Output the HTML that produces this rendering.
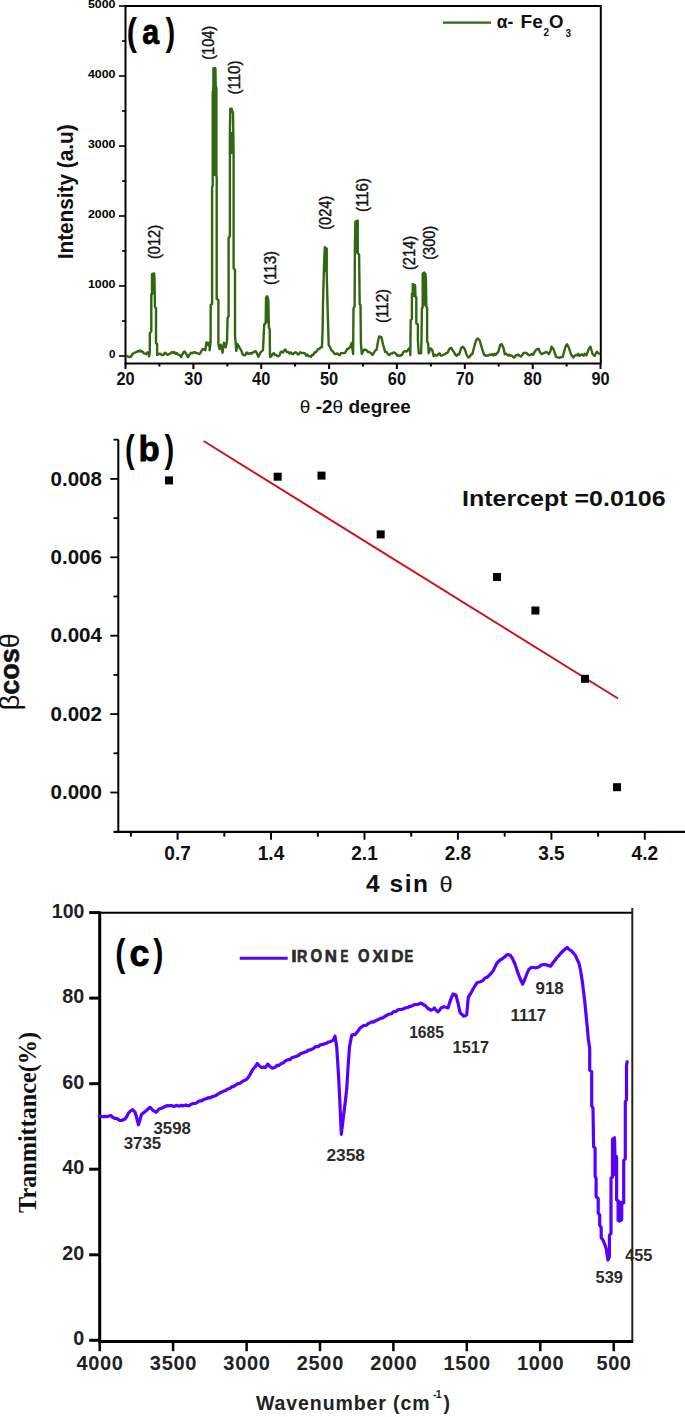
<!DOCTYPE html>
<html><head><meta charset="utf-8"><title>Figure</title>
<style>html,body{margin:0;padding:0;background:#fff;} svg{display:block;}</style>
</head><body>
<svg width="685" height="1417" viewBox="0 0 685 1417">
<rect width="685" height="1417" fill="#fff"/>
<g id="chartA">
<rect x="125.5" y="6" width="475.3" height="357.5" fill="none" stroke="#000" stroke-width="2"/>
<line x1="119" y1="356.0" x2="125.5" y2="356.0" stroke="#000" stroke-width="1.6"/>
<text x="115.5" y="358.3" text-anchor="end" font-family='"Liberation Sans", sans-serif' font-weight="bold" font-size="11.5" fill="#000">0</text>
<line x1="119" y1="286.0" x2="125.5" y2="286.0" stroke="#000" stroke-width="1.6"/>
<text x="115.5" y="288.3" text-anchor="end" font-family='"Liberation Sans", sans-serif' font-weight="bold" font-size="11.5" fill="#000" textLength="27.5" lengthAdjust="spacingAndGlyphs">1000</text>
<line x1="119" y1="216.0" x2="125.5" y2="216.0" stroke="#000" stroke-width="1.6"/>
<text x="115.5" y="218.3" text-anchor="end" font-family='"Liberation Sans", sans-serif' font-weight="bold" font-size="11.5" fill="#000" textLength="27.5" lengthAdjust="spacingAndGlyphs">2000</text>
<line x1="119" y1="146.0" x2="125.5" y2="146.0" stroke="#000" stroke-width="1.6"/>
<text x="115.5" y="148.3" text-anchor="end" font-family='"Liberation Sans", sans-serif' font-weight="bold" font-size="11.5" fill="#000" textLength="27.5" lengthAdjust="spacingAndGlyphs">3000</text>
<line x1="119" y1="76.0" x2="125.5" y2="76.0" stroke="#000" stroke-width="1.6"/>
<text x="115.5" y="78.3" text-anchor="end" font-family='"Liberation Sans", sans-serif' font-weight="bold" font-size="11.5" fill="#000" textLength="27.5" lengthAdjust="spacingAndGlyphs">4000</text>
<line x1="119" y1="6.0" x2="125.5" y2="6.0" stroke="#000" stroke-width="1.6"/>
<text x="115.5" y="8.3" text-anchor="end" font-family='"Liberation Sans", sans-serif' font-weight="bold" font-size="11.5" fill="#000" textLength="27.5" lengthAdjust="spacingAndGlyphs">5000</text>
<line x1="122" y1="321.0" x2="125.5" y2="321.0" stroke="#000" stroke-width="1.6"/>
<line x1="122" y1="251.0" x2="125.5" y2="251.0" stroke="#000" stroke-width="1.6"/>
<line x1="122" y1="181.0" x2="125.5" y2="181.0" stroke="#000" stroke-width="1.6"/>
<line x1="122" y1="111.0" x2="125.5" y2="111.0" stroke="#000" stroke-width="1.6"/>
<line x1="122" y1="41.0" x2="125.5" y2="41.0" stroke="#000" stroke-width="1.6"/>
<line x1="125.5" y1="363" x2="125.5" y2="369" stroke="#000" stroke-width="2"/>
<text x="125.5" y="384.8" text-anchor="middle" font-family='"Liberation Sans", sans-serif' font-weight="bold" font-size="18.2" fill="#111" textLength="18.2" lengthAdjust="spacingAndGlyphs">20</text>
<line x1="193.4" y1="363" x2="193.4" y2="369" stroke="#000" stroke-width="2"/>
<text x="193.4" y="384.8" text-anchor="middle" font-family='"Liberation Sans", sans-serif' font-weight="bold" font-size="18.2" fill="#111" textLength="18.2" lengthAdjust="spacingAndGlyphs">30</text>
<line x1="261.2" y1="363" x2="261.2" y2="369" stroke="#000" stroke-width="2"/>
<text x="261.2" y="384.8" text-anchor="middle" font-family='"Liberation Sans", sans-serif' font-weight="bold" font-size="18.2" fill="#111" textLength="18.2" lengthAdjust="spacingAndGlyphs">40</text>
<line x1="329.1" y1="363" x2="329.1" y2="369" stroke="#000" stroke-width="2"/>
<text x="329.1" y="384.8" text-anchor="middle" font-family='"Liberation Sans", sans-serif' font-weight="bold" font-size="18.2" fill="#111" textLength="18.2" lengthAdjust="spacingAndGlyphs">50</text>
<line x1="396.9" y1="363" x2="396.9" y2="369" stroke="#000" stroke-width="2"/>
<text x="396.9" y="384.8" text-anchor="middle" font-family='"Liberation Sans", sans-serif' font-weight="bold" font-size="18.2" fill="#111" textLength="18.2" lengthAdjust="spacingAndGlyphs">60</text>
<line x1="464.8" y1="363" x2="464.8" y2="369" stroke="#000" stroke-width="2"/>
<text x="464.8" y="384.8" text-anchor="middle" font-family='"Liberation Sans", sans-serif' font-weight="bold" font-size="18.2" fill="#111" textLength="18.2" lengthAdjust="spacingAndGlyphs">70</text>
<line x1="532.7" y1="363" x2="532.7" y2="369" stroke="#000" stroke-width="2"/>
<text x="532.7" y="384.8" text-anchor="middle" font-family='"Liberation Sans", sans-serif' font-weight="bold" font-size="18.2" fill="#111" textLength="18.2" lengthAdjust="spacingAndGlyphs">80</text>
<line x1="600.5" y1="363" x2="600.5" y2="369" stroke="#000" stroke-width="2"/>
<text x="600.5" y="384.8" text-anchor="middle" font-family='"Liberation Sans", sans-serif' font-weight="bold" font-size="18.2" fill="#111" textLength="18.2" lengthAdjust="spacingAndGlyphs">90</text>
<line x1="159.4" y1="363" x2="159.4" y2="366.5" stroke="#000" stroke-width="2"/>
<line x1="227.3" y1="363" x2="227.3" y2="366.5" stroke="#000" stroke-width="2"/>
<line x1="295.1" y1="363" x2="295.1" y2="366.5" stroke="#000" stroke-width="2"/>
<line x1="363.0" y1="363" x2="363.0" y2="366.5" stroke="#000" stroke-width="2"/>
<line x1="430.9" y1="363" x2="430.9" y2="366.5" stroke="#000" stroke-width="2"/>
<line x1="498.7" y1="363" x2="498.7" y2="366.5" stroke="#000" stroke-width="2"/>
<line x1="566.6" y1="363" x2="566.6" y2="366.5" stroke="#000" stroke-width="2"/>
<polyline fill="none" stroke="#336611" stroke-width="2.4" stroke-linejoin="round" points="125.5,355.6 126.8,355.9 128.1,356.7 129.4,357.0 130.9,356.7 132.3,354.2 133.7,353.3 135.0,352.5 136.6,351.9 138.1,351.2 139.2,351.5 140.3,350.5 141.4,351.5 142.5,351.5 144.0,353.4 145.2,353.7 146.3,354.2 147.5,352.3 148.7,353.4 149.1,356.4 149.8,352.0 149.8,333.0 151.3,331.5 151.3,294.3 152.0,294.3 152.0,274.2 154.2,273.5 154.6,284.0 154.9,306.7 156.0,308.2 156.0,343.2 157.1,344.0 157.1,354.9 158.5,354.3 159.8,353.6 161.2,354.6 162.4,355.2 163.7,354.6 164.9,352.7 166.2,353.6 167.3,354.7 168.5,354.5 169.6,353.6 170.7,353.3 171.9,352.0 173.0,352.7 174.2,351.9 175.5,353.7 176.8,353.0 178.0,354.6 179.6,355.0 181.1,357.1 182.3,354.6 183.6,352.1 184.8,351.5 186.4,354.2 187.9,357.1 189.4,354.7 191.0,352.7 192.2,353.4 193.5,352.3 194.7,352.1 195.9,352.9 197.2,353.0 198.4,353.9 199.7,354.0 201.2,351.4 202.8,349.0 205.3,350.3 206.5,342.2 208.0,345.0 209.6,342.2 209.6,350.3 210.6,342.2 210.7,305.0 212.1,304.0 212.1,187.0 212.7,186.0 212.7,92.0 213.4,90.0 213.4,68.3 215.4,68.3 215.7,86.0 216.4,88.0 216.4,176.0 216.7,178.0 216.7,299.0 218.4,300.0 218.4,344.0 219.5,349.0 220.8,344.7 222.6,352.7 223.9,342.8 225.7,347.2 227.0,341.0 227.6,318.0 228.6,316.0 228.6,238.0 229.9,236.0 229.9,132.0 230.3,108.6 231.5,108.6 233.0,113.0 233.6,157.0 233.6,268.0 235.0,270.0 235.0,336.0 236.3,350.9 237.5,344.0 239.4,347.2 240.1,348.8 241.3,350.4 242.6,354.4 243.8,355.3 245.2,355.1 246.7,352.4 247.8,353.7 248.9,353.7 250.0,353.0 251.1,353.9 252.4,352.6 253.6,352.3 254.9,351.1 256.2,351.7 258.4,356.8 260.5,352.4 263.0,350.2 264.2,324.7 265.7,323.2 266.0,297.7 267.1,296.2 268.3,299.9 268.9,327.6 269.7,329.0 270.0,356.8 271.2,356.3 272.5,354.1 273.7,353.1 274.9,355.0 276.1,354.8 277.3,356.1 278.5,356.3 279.6,355.1 280.8,352.0 281.9,351.6 283.1,352.5 284.2,350.4 285.4,349.5 286.8,352.1 288.3,352.0 289.7,353.6 290.9,352.4 292.0,353.8 293.2,354.2 294.4,352.8 295.5,352.3 296.7,352.9 297.9,354.5 299.1,353.9 300.2,352.2 301.4,353.1 302.6,352.9 303.8,353.0 305.0,353.3 306.1,355.7 307.3,354.6 308.5,356.0 309.7,356.2 310.9,356.8 312.1,354.8 313.3,355.1 314.4,352.4 315.6,352.5 316.8,351.0 318.1,349.1 319.4,348.9 320.6,347.5 321.9,347.3 322.6,330.5 323.0,302.8 324.0,266.3 324.8,247.3 326.7,248.8 326.7,272.1 327.7,311.5 328.7,345.1 330.0,347.1 331.4,350.2 333.2,351.9 334.5,353.8 335.9,354.0 337.2,353.4 338.5,354.6 339.8,355.2 341.1,353.0 342.5,353.1 343.8,353.0 345.0,352.8 346.1,351.2 347.3,348.7 348.5,348.7 350.1,347.1 351.7,342.9 353.1,354.0 353.5,308.5 354.6,306.4 354.9,246.0 355.4,221.6 357.7,220.6 357.7,253.4 359.1,254.5 359.7,304.2 360.5,305.3 360.9,343.4 361.8,354.0 363.9,349.8 365.2,349.6 366.5,350.2 367.9,352.1 369.2,351.9 370.8,353.1 372.4,355.1 373.8,352.8 375.2,350.5 376.6,349.8 378.2,340.3 379.2,336.5 381.4,337.1 383.0,344.5 385.1,351.9 386.5,351.9 387.9,354.2 389.3,355.1 390.7,353.5 392.1,353.6 393.5,352.4 394.8,352.8 396.0,353.7 397.3,355.8 398.5,355.2 399.8,356.0 400.9,355.2 402.0,355.0 403.2,352.3 404.3,351.3 405.4,351.2 406.5,351.6 407.6,350.6 408.8,348.4 409.9,348.4 410.3,355.2 410.7,320.2 411.9,319.0 411.9,293.7 412.7,292.9 412.8,284.1 415.1,285.3 415.5,297.0 416.3,297.3 416.3,323.5 417.9,324.3 417.9,340.3 418.7,353.2 421.1,353.2 421.5,338.7 421.9,308.2 422.7,307.4 422.7,273.7 424.3,272.4 425.9,278.1 426.3,306.6 427.1,307.4 427.1,341.9 428.1,342.7 428.7,353.2 430.3,348.4 432.3,350.0 433.6,356.0 434.8,354.7 436.0,355.6 437.2,355.6 438.4,354.0 439.6,353.4 440.8,355.6 441.9,355.6 443.1,354.8 444.5,354.4 446.0,353.3 447.4,352.9 448.7,350.2 449.9,348.4 451.2,348.0 453.6,351.7 455.5,354.8 456.7,355.9 458.0,353.9 459.2,354.5 461.1,348.0 463.0,346.7 464.8,349.2 466.7,354.8 468.3,357.5 469.6,356.9 471.0,354.7 472.3,354.2 474.1,347.3 476.0,340.5 477.8,338.4 479.7,340.5 482.2,349.2 484.0,354.5 485.6,355.8 487.2,355.4 488.4,355.5 489.7,354.6 490.9,355.0 492.1,354.1 493.4,355.5 494.6,353.7 495.8,354.8 498.3,351.7 500.2,344.9 501.8,344.2 503.5,348.0 504.8,354.2 506.0,353.6 507.1,354.7 508.3,355.6 509.5,354.8 510.7,355.8 512.0,355.7 513.2,357.0 514.4,357.6 515.7,355.2 516.9,355.4 518.2,354.5 519.4,355.6 520.7,356.6 522.1,355.2 523.6,353.0 525.0,352.9 526.2,352.8 527.5,354.0 528.7,355.0 530.1,355.1 531.6,353.9 533.0,354.8 535.5,350.4 537.0,349.2 538.6,348.8 540.2,352.5 541.7,354.2 544.2,352.9 546.7,352.0 548.8,354.2 550.2,351.7 551.6,346.7 553.5,349.2 556.0,356.6 557.2,357.3 558.5,357.7 559.7,357.5 561.2,357.3 562.8,356.6 565.3,347.3 566.9,344.2 569.0,348.0 570.9,354.2 573.4,357.5 574.6,355.9 575.9,354.9 577.1,355.4 578.3,353.8 579.5,355.9 580.8,355.0 582.0,354.2 583.5,355.8 584.9,353.8 586.4,355.4 588.9,348.6 590.5,346.7 592.6,354.2 594.5,356.0 596.9,351.7 598.5,353.3 600.0,354.2"/>
<rect x="151.5" y="274" width="3.5" height="20.0" fill="#336611"/>
<rect x="212" y="86.5" width="5.0" height="89.5" fill="#336611"/>
<rect x="229" y="132" width="5.0" height="22.0" fill="#336611"/>
<rect x="324" y="248" width="3.3" height="24.0" fill="#336611"/>
<rect x="355" y="221" width="3.7" height="32.0" fill="#336611"/>
<rect x="412" y="285" width="4.0" height="12.0" fill="#336611"/>
<rect x="422.3" y="273" width="4.3" height="33.0" fill="#336611"/>
<rect x="265.5" y="297" width="3.3" height="26.0" fill="#336611"/>
<text transform="translate(155.0,242.0) rotate(-90)" x="0" y="5.3" text-anchor="middle" font-family='"Liberation Sans", sans-serif' font-size="15.6" fill="#111" stroke="#111" stroke-width="0.4" textLength="34" lengthAdjust="spacingAndGlyphs">(012)</text>
<text transform="translate(208.9,42.8) rotate(-90)" x="0" y="5.3" text-anchor="middle" font-family='"Liberation Sans", sans-serif' font-size="15.6" fill="#111" stroke="#111" stroke-width="0.4" textLength="34" lengthAdjust="spacingAndGlyphs">(104)</text>
<text transform="translate(234.2,77.5) rotate(-90)" x="0" y="5.3" text-anchor="middle" font-family='"Liberation Sans", sans-serif' font-size="15.6" fill="#111" stroke="#111" stroke-width="0.4" textLength="34" lengthAdjust="spacingAndGlyphs">(110)</text>
<text transform="translate(270.7,267.9) rotate(-90)" x="0" y="5.3" text-anchor="middle" font-family='"Liberation Sans", sans-serif' font-size="15.6" fill="#111" stroke="#111" stroke-width="0.4" textLength="34" lengthAdjust="spacingAndGlyphs">(113)</text>
<text transform="translate(325.6,212.8) rotate(-90)" x="0" y="5.3" text-anchor="middle" font-family='"Liberation Sans", sans-serif' font-size="15.6" fill="#111" stroke="#111" stroke-width="0.4" textLength="34" lengthAdjust="spacingAndGlyphs">(024)</text>
<text transform="translate(362.8,195.1) rotate(-90)" x="0" y="5.3" text-anchor="middle" font-family='"Liberation Sans", sans-serif' font-size="15.6" fill="#111" stroke="#111" stroke-width="0.4" textLength="34" lengthAdjust="spacingAndGlyphs">(116)</text>
<text transform="translate(382.3,305.9) rotate(-90)" x="0" y="5.3" text-anchor="middle" font-family='"Liberation Sans", sans-serif' font-size="15.6" fill="#111" stroke="#111" stroke-width="0.4" textLength="34" lengthAdjust="spacingAndGlyphs">(112)</text>
<text transform="translate(409.5,253.0) rotate(-90)" x="0" y="5.3" text-anchor="middle" font-family='"Liberation Sans", sans-serif' font-size="15.6" fill="#111" stroke="#111" stroke-width="0.4" textLength="34" lengthAdjust="spacingAndGlyphs">(214)</text>
<text transform="translate(429.6,242.8) rotate(-90)" x="0" y="5.3" text-anchor="middle" font-family='"Liberation Sans", sans-serif' font-size="15.6" fill="#111" stroke="#111" stroke-width="0.4" textLength="34" lengthAdjust="spacingAndGlyphs">(300)</text>
<text transform="translate(126.86,44.93) scale(0.803,1)" font-family='"Liberation Sans", sans-serif' font-weight="bold" font-size="38.41" fill="#000">(</text>
<text transform="translate(142.31,43.86) scale(0.862,1)" font-family='"Liberation Sans", sans-serif' font-weight="bold" font-size="35.23" fill="#000" stroke="#000" stroke-width="0.8">a</text>
<text transform="translate(165.57,44.93) scale(0.756,1)" font-family='"Liberation Sans", sans-serif' font-weight="bold" font-size="38.41" fill="#000">)</text>
<line x1="443" y1="22.6" x2="491" y2="22.6" stroke="#336611" stroke-width="2.3"/>
<text x="496.8" y="28.4" font-family='"Liberation Sans", sans-serif' font-weight="bold" font-size="17.5" fill="#111">α-</text>
<text x="520.6" y="28.4" font-family='"Liberation Sans", sans-serif' font-weight="bold" font-size="17.5" fill="#111" textLength="22.3" lengthAdjust="spacingAndGlyphs">Fe</text>
<text x="543.5" y="36.4" font-family='"Liberation Sans", sans-serif' font-weight="bold" font-size="10" fill="#111">2</text>
<text x="549" y="28.4" font-family='"Liberation Sans", sans-serif' font-weight="bold" font-size="17.5" fill="#111" textLength="14.5" lengthAdjust="spacingAndGlyphs">O</text>
<text x="565.5" y="36.7" font-family='"Liberation Sans", sans-serif' font-weight="bold" font-size="10" fill="#111">3</text>
<text transform="translate(65.2,191.8) rotate(-90)" x="0" y="7.5" text-anchor="middle" font-family='"Liberation Sans", sans-serif' font-weight="bold" font-size="21.3" fill="#111" textLength="135" lengthAdjust="spacingAndGlyphs">Intensity (a.u)</text>
<text x="299.8" y="412.8" font-family='"Liberation Sans", sans-serif' font-weight="bold" font-size="18" fill="#111" textLength="111" lengthAdjust="spacingAndGlyphs"><tspan font-weight="normal">θ</tspan> -2<tspan font-weight="normal">θ</tspan> degree</text>
</g>
<g id="chartB">
<line x1="118.3" y1="439.5" x2="118.3" y2="832.9" stroke="#000" stroke-width="2"/>
<line x1="113.5" y1="831.9" x2="685" y2="831.9" stroke="#000" stroke-width="2.1"/>
<line x1="110.3" y1="792.5" x2="118.3" y2="792.5" stroke="#000" stroke-width="1.8"/>
<text x="102" y="799.1" text-anchor="end" font-family='"Liberation Sans", sans-serif' font-weight="bold" font-size="19.5" fill="#111" textLength="51.5" lengthAdjust="spacingAndGlyphs">0.000</text>
<line x1="113.5" y1="753.3" x2="118.3" y2="753.3" stroke="#000" stroke-width="1.8"/>
<line x1="110.3" y1="714.1" x2="118.3" y2="714.1" stroke="#000" stroke-width="1.8"/>
<text x="102" y="720.7" text-anchor="end" font-family='"Liberation Sans", sans-serif' font-weight="bold" font-size="19.5" fill="#111" textLength="51.5" lengthAdjust="spacingAndGlyphs">0.002</text>
<line x1="113.5" y1="674.9" x2="118.3" y2="674.9" stroke="#000" stroke-width="1.8"/>
<line x1="110.3" y1="635.7" x2="118.3" y2="635.7" stroke="#000" stroke-width="1.8"/>
<text x="102" y="642.3" text-anchor="end" font-family='"Liberation Sans", sans-serif' font-weight="bold" font-size="19.5" fill="#111" textLength="51.5" lengthAdjust="spacingAndGlyphs">0.004</text>
<line x1="113.5" y1="596.5" x2="118.3" y2="596.5" stroke="#000" stroke-width="1.8"/>
<line x1="110.3" y1="557.3" x2="118.3" y2="557.3" stroke="#000" stroke-width="1.8"/>
<text x="102" y="563.9" text-anchor="end" font-family='"Liberation Sans", sans-serif' font-weight="bold" font-size="19.5" fill="#111" textLength="51.5" lengthAdjust="spacingAndGlyphs">0.006</text>
<line x1="113.5" y1="518.1" x2="118.3" y2="518.1" stroke="#000" stroke-width="1.8"/>
<line x1="110.3" y1="478.9" x2="118.3" y2="478.9" stroke="#000" stroke-width="1.8"/>
<text x="102" y="485.5" text-anchor="end" font-family='"Liberation Sans", sans-serif' font-weight="bold" font-size="19.5" fill="#111" textLength="51.5" lengthAdjust="spacingAndGlyphs">0.008</text>
<line x1="113.5" y1="439.7" x2="118.3" y2="439.7" stroke="#000" stroke-width="1.8"/>
<line x1="130.9" y1="831.9" x2="130.9" y2="836.6" stroke="#000" stroke-width="2"/>
<line x1="177.6" y1="831.9" x2="177.6" y2="839.7" stroke="#000" stroke-width="2"/>
<text x="177.6" y="860.2" text-anchor="middle" font-family='"Liberation Sans", sans-serif' font-weight="bold" font-size="20.5" fill="#111" textLength="26.5" lengthAdjust="spacingAndGlyphs">0.7</text>
<line x1="224.3" y1="831.9" x2="224.3" y2="836.6" stroke="#000" stroke-width="2"/>
<line x1="271.0" y1="831.9" x2="271.0" y2="839.7" stroke="#000" stroke-width="2"/>
<text x="271.0" y="860.2" text-anchor="middle" font-family='"Liberation Sans", sans-serif' font-weight="bold" font-size="20.5" fill="#111" textLength="26.5" lengthAdjust="spacingAndGlyphs">1.4</text>
<line x1="317.8" y1="831.9" x2="317.8" y2="836.6" stroke="#000" stroke-width="2"/>
<line x1="364.5" y1="831.9" x2="364.5" y2="839.7" stroke="#000" stroke-width="2"/>
<text x="364.5" y="860.2" text-anchor="middle" font-family='"Liberation Sans", sans-serif' font-weight="bold" font-size="20.5" fill="#111" textLength="26.5" lengthAdjust="spacingAndGlyphs">2.1</text>
<line x1="411.2" y1="831.9" x2="411.2" y2="836.6" stroke="#000" stroke-width="2"/>
<line x1="457.9" y1="831.9" x2="457.9" y2="839.7" stroke="#000" stroke-width="2"/>
<text x="457.9" y="860.2" text-anchor="middle" font-family='"Liberation Sans", sans-serif' font-weight="bold" font-size="20.5" fill="#111" textLength="26.5" lengthAdjust="spacingAndGlyphs">2.8</text>
<line x1="504.7" y1="831.9" x2="504.7" y2="836.6" stroke="#000" stroke-width="2"/>
<line x1="551.4" y1="831.9" x2="551.4" y2="839.7" stroke="#000" stroke-width="2"/>
<text x="551.4" y="860.2" text-anchor="middle" font-family='"Liberation Sans", sans-serif' font-weight="bold" font-size="20.5" fill="#111" textLength="26.5" lengthAdjust="spacingAndGlyphs">3.5</text>
<line x1="598.1" y1="831.9" x2="598.1" y2="836.6" stroke="#000" stroke-width="2"/>
<line x1="644.8" y1="831.9" x2="644.8" y2="839.7" stroke="#000" stroke-width="2"/>
<text x="644.8" y="860.2" text-anchor="middle" font-family='"Liberation Sans", sans-serif' font-weight="bold" font-size="20.5" fill="#111" textLength="26.5" lengthAdjust="spacingAndGlyphs">4.2</text>
<line x1="203.6" y1="441" x2="618" y2="698.5" stroke="#cc1119" stroke-width="2"/>
<rect x="165.0" y="476.4" width="8" height="8" fill="#000"/>
<rect x="273.7" y="472.7" width="8" height="8" fill="#000"/>
<rect x="317.5" y="471.6" width="8" height="8" fill="#000"/>
<rect x="376.7" y="530.4" width="8" height="8" fill="#000"/>
<rect x="493.0" y="573.0" width="8" height="8" fill="#000"/>
<rect x="531.4" y="606.5" width="8" height="8" fill="#000"/>
<rect x="581.0" y="674.8" width="8" height="8" fill="#000"/>
<rect x="613.0" y="783.2" width="8" height="8" fill="#000"/>
<text transform="translate(124.95,462.23) scale(0.756,1)" font-family='"Liberation Sans", sans-serif' font-weight="bold" font-size="38.41" fill="#000">(</text>
<text transform="translate(138.51,460.76) scale(0.985,1)" font-family='"Liberation Sans", sans-serif' font-weight="bold" font-size="35.27" fill="#000" stroke="#000" stroke-width="0.8">b</text>
<text transform="translate(164.47,462.23) scale(0.756,1)" font-family='"Liberation Sans", sans-serif' font-weight="bold" font-size="38.41" fill="#000">)</text>
<text x="462" y="506" font-family='"Liberation Sans", sans-serif' font-weight="bold" font-size="22" fill="#111" textLength="203.6" lengthAdjust="spacingAndGlyphs">Intercept =0.0106</text>
<text x="366" y="892.3" font-family='"Liberation Sans", sans-serif' font-weight="bold" font-size="24.5" fill="#111" textLength="62" lengthAdjust="spacing">4 sin</text>
<text x="439.5" y="892" font-family='"Liberation Sans", sans-serif' font-size="22" fill="#111" textLength="13.2" lengthAdjust="spacingAndGlyphs">θ</text>
<text transform="translate(18.8,671.8) rotate(-90)" x="0" y="0" text-anchor="middle" font-family='"Liberation Sans", sans-serif' font-size="27" fill="#111"><tspan>β</tspan><tspan font-weight="bold" stroke="#111" stroke-width="0.5">cos</tspan><tspan>θ</tspan></text>
</g>
<g id="chartC">
<line x1="99.7" y1="912.7" x2="632.3" y2="912.7" stroke="#000" stroke-width="2"/>
<line x1="632.3" y1="908" x2="632.3" y2="1341.6" stroke="#222" stroke-width="2"/>
<line x1="99.7" y1="911.5" x2="99.7" y2="1343" stroke="#000" stroke-width="3"/>
<line x1="98.2" y1="1341.6" x2="633.3" y2="1341.6" stroke="#000" stroke-width="3"/>
<line x1="89.2" y1="1340.3" x2="99.7" y2="1340.3" stroke="#000" stroke-width="3"/>
<text x="84.3" y="1345.3" text-anchor="end" font-family='"Liberation Sans", sans-serif' font-weight="bold" font-size="20.5" fill="#222" textLength="11" lengthAdjust="spacingAndGlyphs">0</text>
<line x1="89.2" y1="1254.8" x2="99.7" y2="1254.8" stroke="#000" stroke-width="3"/>
<text x="84.3" y="1259.8" text-anchor="end" font-family='"Liberation Sans", sans-serif' font-weight="bold" font-size="20.5" fill="#222" textLength="22" lengthAdjust="spacingAndGlyphs">20</text>
<line x1="89.2" y1="1169.2" x2="99.7" y2="1169.2" stroke="#000" stroke-width="3"/>
<text x="84.3" y="1174.2" text-anchor="end" font-family='"Liberation Sans", sans-serif' font-weight="bold" font-size="20.5" fill="#222" textLength="22" lengthAdjust="spacingAndGlyphs">40</text>
<line x1="89.2" y1="1083.7" x2="99.7" y2="1083.7" stroke="#000" stroke-width="3"/>
<text x="84.3" y="1088.7" text-anchor="end" font-family='"Liberation Sans", sans-serif' font-weight="bold" font-size="20.5" fill="#222" textLength="22" lengthAdjust="spacingAndGlyphs">60</text>
<line x1="89.2" y1="998.1" x2="99.7" y2="998.1" stroke="#000" stroke-width="3"/>
<text x="84.3" y="1003.1" text-anchor="end" font-family='"Liberation Sans", sans-serif' font-weight="bold" font-size="20.5" fill="#222" textLength="22" lengthAdjust="spacingAndGlyphs">80</text>
<line x1="89.2" y1="912.6" x2="99.7" y2="912.6" stroke="#000" stroke-width="3"/>
<text x="84.3" y="917.6" text-anchor="end" font-family='"Liberation Sans", sans-serif' font-weight="bold" font-size="20.5" fill="#222" textLength="32.5" lengthAdjust="spacingAndGlyphs">100</text>
<line x1="99.7" y1="1341.6" x2="99.7" y2="1351.2" stroke="#000" stroke-width="2.5"/>
<text x="99.7" y="1369.8" text-anchor="middle" font-family='"Liberation Sans", sans-serif' font-weight="bold" font-size="20" fill="#222" textLength="46.5" lengthAdjust="spacing">4000</text>
<line x1="173.1" y1="1341.6" x2="173.1" y2="1351.2" stroke="#000" stroke-width="2.5"/>
<text x="173.1" y="1369.8" text-anchor="middle" font-family='"Liberation Sans", sans-serif' font-weight="bold" font-size="20" fill="#222" textLength="46.5" lengthAdjust="spacing">3500</text>
<line x1="246.6" y1="1341.6" x2="246.6" y2="1351.2" stroke="#000" stroke-width="2.5"/>
<text x="246.6" y="1369.8" text-anchor="middle" font-family='"Liberation Sans", sans-serif' font-weight="bold" font-size="20" fill="#222" textLength="46.5" lengthAdjust="spacing">3000</text>
<line x1="320.0" y1="1341.6" x2="320.0" y2="1351.2" stroke="#000" stroke-width="2.5"/>
<text x="320.0" y="1369.8" text-anchor="middle" font-family='"Liberation Sans", sans-serif' font-weight="bold" font-size="20" fill="#222" textLength="46.5" lengthAdjust="spacing">2500</text>
<line x1="393.4" y1="1341.6" x2="393.4" y2="1351.2" stroke="#000" stroke-width="2.5"/>
<text x="393.4" y="1369.8" text-anchor="middle" font-family='"Liberation Sans", sans-serif' font-weight="bold" font-size="20" fill="#222" textLength="46.5" lengthAdjust="spacing">2000</text>
<line x1="466.8" y1="1341.6" x2="466.8" y2="1351.2" stroke="#000" stroke-width="2.5"/>
<text x="466.8" y="1369.8" text-anchor="middle" font-family='"Liberation Sans", sans-serif' font-weight="bold" font-size="20" fill="#222" textLength="46.5" lengthAdjust="spacing">1500</text>
<line x1="540.3" y1="1341.6" x2="540.3" y2="1351.2" stroke="#000" stroke-width="2.5"/>
<text x="540.3" y="1369.8" text-anchor="middle" font-family='"Liberation Sans", sans-serif' font-weight="bold" font-size="20" fill="#222" textLength="46.5" lengthAdjust="spacing">1000</text>
<line x1="613.7" y1="1341.6" x2="613.7" y2="1351.2" stroke="#000" stroke-width="2.5"/>
<text x="613.7" y="1369.8" text-anchor="middle" font-family='"Liberation Sans", sans-serif' font-weight="bold" font-size="20" fill="#222" textLength="34.5" lengthAdjust="spacing">500</text>
<path d="M611,1139 L616,1137 L617,1176 L611,1176 Z M616.5,1201 L622.8,1201 L622.8,1221 L619.5,1223 L616.5,1221 Z" fill="#5800ff"/>
<polyline fill="none" stroke="#5800ff" stroke-width="3.2" stroke-linejoin="round" stroke-linecap="round" points="99.4,1116.0 100.9,1116.3 102.5,1116.6 104.0,1116.5 105.7,1116.6 107.4,1116.5 109.1,1116.0 110.8,1115.5 112.9,1117.5 115.0,1118.5 116.6,1118.4 118.2,1119.4 119.7,1120.5 121.3,1120.4 123.2,1119.9 125.0,1119.0 126.7,1116.7 128.3,1113.4 130.5,1111.0 132.7,1109.6 135.2,1112.5 136.8,1118.0 138.4,1124.8 140.2,1119.0 141.5,1114.5 143.2,1113.1 144.9,1111.7 147.0,1110.0 148.6,1108.3 150.2,1107.3 153.0,1110.5 154.7,1111.4 156.3,1112.2 159.0,1109.0 161.6,1108.2 163.3,1107.4 165.0,1106.5 166.8,1105.6 168.6,1105.9 170.2,1105.5 171.7,1105.6 173.3,1106.3 174.9,1106.2 176.4,1105.4 178.0,1105.8 179.7,1106.1 181.3,1105.3 182.9,1105.9 184.6,1105.3 186.2,1105.1 187.9,1105.7 189.4,1105.6 190.9,1104.3 192.5,1103.7 194.0,1103.5 195.5,1103.4 197.1,1102.6 198.6,1101.3 200.1,1100.9 201.7,1100.8 203.4,1099.7 205.0,1099.0 206.7,1098.7 208.3,1097.6 210.0,1098.0 211.7,1096.9 213.3,1096.4 214.8,1096.0 216.4,1095.2 218.0,1094.0 219.5,1093.1 221.1,1092.5 222.6,1091.6 224.2,1090.9 225.7,1090.6 227.2,1089.2 228.8,1088.7 230.3,1088.2 231.9,1086.6 233.4,1086.6 235.0,1085.5 236.7,1084.4 238.3,1083.5 240.0,1083.3 241.7,1082.0 243.4,1080.9 245.0,1080.2 246.7,1079.4 248.4,1077.1 250.2,1074.3 252.1,1070.6 254.0,1068.0 255.6,1066.3 257.2,1063.5 259.5,1066.0 261.9,1067.7 263.6,1067.1 265.4,1067.7 267.7,1064.2 270.0,1066.5 272.4,1068.2 273.9,1067.8 275.4,1067.1 277.0,1065.4 278.5,1065.6 280.0,1064.5 281.7,1063.4 283.4,1062.8 285.0,1061.2 286.7,1060.3 288.4,1059.6 290.0,1059.6 291.7,1057.7 293.4,1057.2 295.1,1056.8 296.7,1056.2 298.4,1055.5 300.0,1054.0 301.7,1053.3 303.3,1052.8 305.0,1052.0 306.7,1051.6 308.4,1050.0 310.1,1050.0 311.7,1049.3 313.4,1048.6 315.1,1046.9 316.8,1046.7 318.4,1046.6 320.1,1044.9 321.7,1044.6 323.4,1044.3 325.0,1043.5 326.6,1043.3 328.2,1042.0 329.9,1042.0 331.5,1040.9 333.1,1040.2 335.0,1036.2 336.7,1046.7 338.5,1075.0 339.7,1098.1 341.3,1134.3 343.7,1114.5 345.5,1100.0 346.7,1088.8 348.0,1068.0 349.5,1046.7 351.8,1035.0 353.4,1034.6 355.0,1034.7 356.8,1032.5 358.5,1030.3 360.2,1028.1 362.0,1026.6 363.6,1025.5 365.2,1025.4 366.8,1025.0 368.4,1023.3 370.0,1023.0 371.7,1021.8 373.4,1022.2 375.0,1021.0 376.7,1020.2 378.4,1019.6 380.1,1018.5 381.7,1018.1 383.4,1017.6 385.0,1016.3 386.7,1015.5 388.3,1014.3 390.0,1014.0 391.6,1013.7 393.1,1011.9 394.7,1011.7 396.3,1011.4 397.8,1009.8 399.4,1009.5 401.3,1009.3 403.1,1009.0 405.0,1008.0 406.5,1007.7 408.0,1007.5 409.5,1006.3 411.0,1006.3 412.7,1005.6 414.3,1004.7 416.0,1004.5 418.2,1004.3 420.4,1003.2 422.0,1003.7 423.5,1004.7 425.1,1005.5 428.0,1008.5 430.9,1010.2 432.6,1009.6 434.4,1007.9 436.1,1010.3 437.9,1011.9 439.4,1010.5 441.0,1008.0 443.8,1006.7 445.9,1007.2 448.0,1007.9 450.5,1000.0 453.1,993.9 455.9,995.0 458.0,1003.0 460.1,1012.6 461.9,1014.3 463.6,1016.1 465.1,1015.8 466.7,1014.9 468.3,997.4 470.1,994.4 471.8,991.5 473.4,988.5 474.9,986.0 476.5,983.4 478.0,982.3 479.6,982.0 481.1,981.5 483.1,980.3 485.0,978.0 487.1,977.2 489.3,975.2 491.1,973.3 493.0,971.0 495.0,967.0 497.0,963.0 498.6,961.5 500.1,960.0 501.7,959.2 504.5,957.0 507.5,954.5 510.0,955.0 512.2,958.0 515.0,964.0 518.0,973.2 520.5,979.5 522.7,984.2 524.5,980.0 526.2,975.5 528.5,970.0 530.9,967.8 532.5,967.4 534.0,967.5 536.0,967.8 537.9,967.4 539.5,966.6 541.0,965.0 543.7,964.6 545.4,964.6 547.0,965.0 548.9,965.9 550.7,966.2 553.5,962.0 555.0,960.3 556.6,958.0 558.8,955.7 561.0,953.0 564.0,950.0 565.5,948.9 567.1,947.5 569.0,949.3 571.0,950.5 573.1,952.7 575.3,955.2 577.0,959.2 578.8,962.7 580.5,970.0 582.3,981.4 584.6,1000.0 586.9,1023.4 588.4,1040.0 589.7,1047.9 589.7,1070.2 591.7,1071.5 591.7,1105.7 593.0,1108.3 593.6,1146.5 595.1,1148.5 595.1,1176.2 596.1,1178.2 596.1,1196.6 598.2,1198.7 598.2,1213.0 599.7,1215.0 599.7,1225.3 601.2,1227.4 601.2,1237.6 603.3,1240.7 605.3,1245.8 606.4,1249.9 607.9,1260.1 609.4,1257.0 609.4,1235.5 611.0,1233.5 611.0,1178.2 612.5,1177.2 612.5,1139.3 614.5,1137.8 614.5,1155.7 616.6,1156.7 616.6,1199.7 619.1,1201.8 619.1,1220.2 621.7,1219.2 621.7,1203.8 623.7,1202.8 623.7,1160.3 625.3,1158.8 625.3,1101.8 626.5,1099.8 626.5,1065.0 627.2,1061.7"/>
<text x="123.7" y="1148.8" font-family='"Liberation Sans", sans-serif' font-weight="bold" font-size="16.5" fill="#2a2a2a" textLength="37.5" lengthAdjust="spacingAndGlyphs">3735</text>
<text x="153.5" y="1133.9" font-family='"Liberation Sans", sans-serif' font-weight="bold" font-size="16.5" fill="#2a2a2a" textLength="37.4" lengthAdjust="spacingAndGlyphs">3598</text>
<text x="326.4" y="1160.9" font-family='"Liberation Sans", sans-serif' font-weight="bold" font-size="16.5" fill="#2a2a2a" textLength="38.6" lengthAdjust="spacingAndGlyphs">2358</text>
<text x="409.2" y="1037.8" font-family='"Liberation Sans", sans-serif' font-weight="bold" font-size="16.5" fill="#2a2a2a" textLength="34.7" lengthAdjust="spacingAndGlyphs">1685</text>
<text x="452.6" y="1053" font-family='"Liberation Sans", sans-serif' font-weight="bold" font-size="16.5" fill="#2a2a2a" textLength="36.4" lengthAdjust="spacingAndGlyphs">1517</text>
<text x="510.6" y="1021.1" font-family='"Liberation Sans", sans-serif' font-weight="bold" font-size="16.5" fill="#2a2a2a" textLength="35.6" lengthAdjust="spacingAndGlyphs">1117</text>
<text x="535.5" y="993.5" font-family='"Liberation Sans", sans-serif' font-weight="bold" font-size="16.5" fill="#2a2a2a" textLength="28.2" lengthAdjust="spacingAndGlyphs">918</text>
<text x="595.6" y="1282.5" font-family='"Liberation Sans", sans-serif' font-weight="bold" font-size="16.5" fill="#2a2a2a" textLength="27.3" lengthAdjust="spacingAndGlyphs">539</text>
<text x="625.2" y="1260.8" font-family='"Liberation Sans", sans-serif' font-weight="bold" font-size="16.5" fill="#2a2a2a" textLength="27.2" lengthAdjust="spacingAndGlyphs">455</text>
<text transform="translate(115.26,965.62) scale(0.812,1)" font-family='"Liberation Sans", sans-serif' font-weight="bold" font-size="37.98" fill="#000">(</text>
<text transform="translate(129.40,965.73) scale(0.954,1)" font-family='"Liberation Sans", sans-serif' font-weight="bold" font-size="37.60" fill="#000" stroke="#000" stroke-width="0.8">c</text>
<text transform="translate(153.17,965.62) scale(0.802,1)" font-family='"Liberation Sans", sans-serif' font-weight="bold" font-size="37.98" fill="#000">)</text>
<line x1="239.7" y1="958.3" x2="287.7" y2="958.3" stroke="#5800ff" stroke-width="3"/>
<text transform="translate(291.30,962.20) scale(1.153,1)" font-family='"Liberation Sans", sans-serif' font-weight="bold" font-size="16.86" fill="#2a2a2a" stroke="#2a2a2a" stroke-width="0.6">I</text>
<text transform="translate(296.94,962.20) scale(0.850,1)" font-family='"Liberation Sans", sans-serif' font-weight="bold" font-size="16.86" fill="#2a2a2a" stroke="#2a2a2a" stroke-width="0.6">R</text>
<text transform="translate(310.49,962.43) scale(0.855,1)" font-family='"Liberation Sans", sans-serif' font-weight="bold" font-size="17.51" fill="#2a2a2a" stroke="#2a2a2a" stroke-width="0.6">O</text>
<text transform="translate(324.87,962.20) scale(0.999,1)" font-family='"Liberation Sans", sans-serif' font-weight="bold" font-size="16.86" fill="#2a2a2a" stroke="#2a2a2a" stroke-width="0.6">N</text>
<text transform="translate(340.51,962.20) scale(0.698,1)" font-family='"Liberation Sans", sans-serif' font-weight="bold" font-size="16.86" fill="#2a2a2a" stroke="#2a2a2a" stroke-width="0.6">E</text>
<text transform="translate(357.99,962.43) scale(0.846,1)" font-family='"Liberation Sans", sans-serif' font-weight="bold" font-size="17.51" fill="#2a2a2a" stroke="#2a2a2a" stroke-width="0.6">O</text>
<text transform="translate(372.46,962.20) scale(0.950,1)" font-family='"Liberation Sans", sans-serif' font-weight="bold" font-size="16.86" fill="#2a2a2a" stroke="#2a2a2a" stroke-width="0.6">X</text>
<text transform="translate(383.35,962.20) scale(1.112,1)" font-family='"Liberation Sans", sans-serif' font-weight="bold" font-size="16.86" fill="#2a2a2a" stroke="#2a2a2a" stroke-width="0.6">I</text>
<text transform="translate(391.17,962.20) scale(1.006,1)" font-family='"Liberation Sans", sans-serif' font-weight="bold" font-size="16.86" fill="#2a2a2a" stroke="#2a2a2a" stroke-width="0.6">D</text>
<text transform="translate(404.53,962.20) scale(0.772,1)" font-family='"Liberation Sans", sans-serif' font-weight="bold" font-size="16.86" fill="#2a2a2a" stroke="#2a2a2a" stroke-width="0.6">E</text>
<text transform="translate(36.3,1122.4) rotate(-90)" x="0" y="0" text-anchor="middle" font-family='"Liberation Serif", serif' font-weight="bold" font-size="25" fill="#111" textLength="181" lengthAdjust="spacingAndGlyphs">Tranmittance(%)</text>
<text x="256" y="1410.3" font-family='"Liberation Sans", sans-serif' font-weight="bold" font-size="19.5" fill="#222" textLength="173.5" lengthAdjust="spacing">Wavenumber (cm</text>
<text x="433" y="1398.3" font-family='"Liberation Sans", sans-serif' font-weight="bold" font-size="10.5" fill="#222" textLength="8.6" lengthAdjust="spacing">-1</text>
<text x="443.6" y="1410.3" font-family='"Liberation Sans", sans-serif' font-weight="bold" font-size="19.5" fill="#222">)</text>
</g>
</svg>
</body></html>
